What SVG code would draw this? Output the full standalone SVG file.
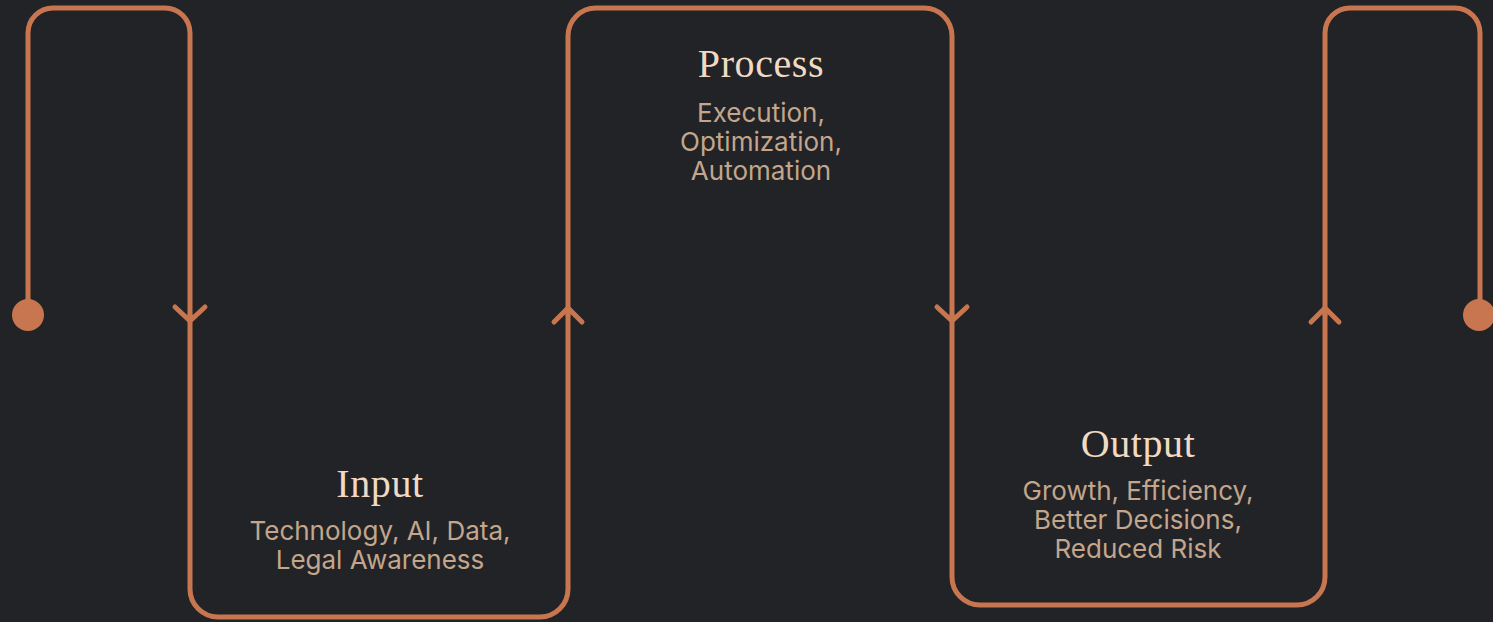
<svg xmlns="http://www.w3.org/2000/svg" width="1493" height="622" viewBox="0 0 1493 622">
  <style>
    .line { fill: none; stroke: #c8764f; stroke-width: 5; stroke-linecap: round; stroke-linejoin: round; }
    .dot { fill: #c8764f; }
    .title { font-family: "Liberation Serif", "DejaVu Serif", serif; font-size: 40px; letter-spacing: 0.6px; fill: #f0dac4; text-anchor: middle; }
    .body { font-family: Inter, "Noto Sans", "Liberation Sans", sans-serif; font-size: 26px; fill: #c3a68b; text-anchor: middle; }
  </style>
  <rect width="1493" height="622" fill="#222327"/>
  <g id="connectors">
    <path class="line" d="M28,315 V33 A25,25 0 0 1 53,8 H165 A25,25 0 0 1 190,33 V315"/>
    <path class="line" d="M1325,315 V33 A25,25 0 0 1 1350,8 H1455 A25,25 0 0 1 1480,33 V315"/>
    <circle class="dot" cx="28" cy="315" r="16"/>
    <circle class="dot" cx="1479" cy="315" r="16"/>
    <polyline class="line" points="175,307 190,321 205,307"/>
    <polyline class="line" points="554,322 568,308 582,322"/>
    <polyline class="line" points="937,307 952,321 967,307"/>
    <polyline class="line" points="1311,322 1325,308 1339,322"/>
  </g>
  <g id="node-input">
    <path class="line" d="M190,315 V589 A28,28 0 0 0 218,617 H540 A28,28 0 0 0 568,589 V315"/>
    <text class="title" x="380" y="497">Input</text>
    <text class="body" x="380" y="540">Technology, AI, Data,</text>
    <text class="body" x="380" y="569">Legal Awareness</text>
  </g>
  <g id="node-process">
    <path class="line" d="M568,315 V36 A28,28 0 0 1 596,8 H924 A28,28 0 0 1 952,36 V315"/>
    <text class="title" x="761" y="77">Process</text>
    <text class="body" x="761" y="122">Execution,</text>
    <text class="body" x="761" y="151">Optimization,</text>
    <text class="body" x="761" y="180">Automation</text>
  </g>
  <g id="node-output">
    <path class="line" d="M952,315 V577 A28,28 0 0 0 980,605 H1297 A28,28 0 0 0 1325,577 V315"/>
    <text class="title" x="1138" y="457">Output</text>
    <text class="body" x="1138" y="500">Growth, Efficiency,</text>
    <text class="body" x="1138" y="529">Better Decisions,</text>
    <text class="body" x="1138" y="558">Reduced Risk</text>
  </g>
</svg>
